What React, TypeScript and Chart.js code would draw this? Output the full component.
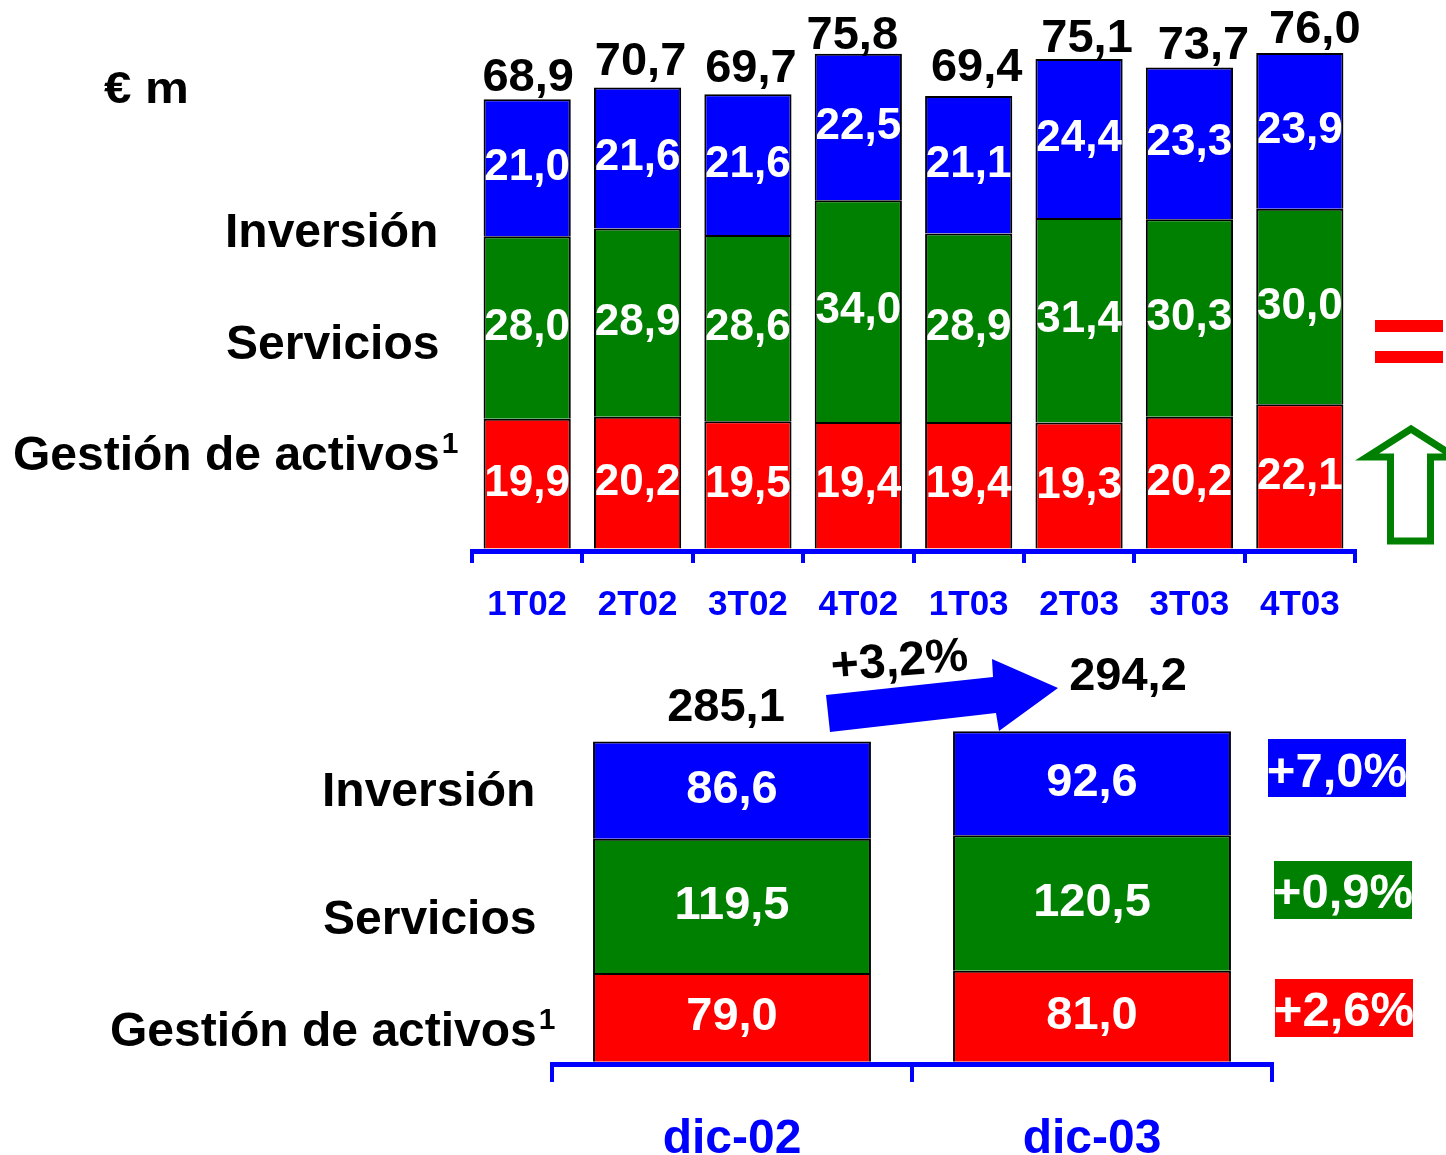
import React, { useEffect, useRef } from "react";
import { Chart, registerables } from "chart.js";

Chart.register(...registerables);

const FONT = '"Liberation Sans", Arial, Helvetica, sans-serif';
const RED = "#FF0000";
const GREEN = "#008000";
const BLUE = "#0000FF";

// ---- Quarterly data (top chart) ----
const quarters = ["1T02", "2T02", "3T02", "4T02", "1T03", "2T03", "3T03", "4T03"];
const qGestion = [19.9, 20.2, 19.5, 19.4, 19.4, 19.3, 20.2, 22.1];
const qServicios = [28.0, 28.9, 28.6, 34.0, 28.9, 31.4, 30.3, 30.0];
const qInversion = [21.0, 21.6, 21.6, 22.5, 21.1, 24.4, 23.3, 23.9];
const qTotals = [68.9, 70.7, 69.7, 75.8, 69.4, 75.1, 73.7, 76.0];

// ---- Year-end data (bottom chart) ----
const years = ["dic-02", "dic-03"];
const yGestion = [79.0, 81.0];
const yServicios = [119.5, 120.5];
const yInversion = [86.6, 92.6];
const yTotals = [285.1, 294.2];

// ---- Series names and growth annotations ----
const seriesNames = ["Gestión de activos", "Servicios", "Inversión"];
const footnoteMark = "1";
const unitLabel = "€ m";
const totalGrowth = "+3,2%";
const growthInversion = "+7,0%";
const growthServicios = "+0,9%";
const growthGestion = "+2,6%";

const fmt = (v: number) => v.toFixed(1).replace(".", ",");

function makeLabelPlugin(cfg: {
  inner: number;
  total: number;
  totals: number[];
  offsets: number[][];
}) {
  return {
    id: "segLabels",
    afterDatasetsDraw(chart: any) {
      const ctx = chart.ctx as CanvasRenderingContext2D;
      ctx.save();
      ctx.font = `bold ${cfg.inner}px ${FONT}`;
      ctx.fillStyle = "#FFFFFF";
      ctx.textAlign = "center";
      ctx.textBaseline = "middle";
      chart.data.datasets.forEach((ds: any, i: number) => {
        const meta = chart.getDatasetMeta(i);
        meta.data.forEach((el: any, j: number) => {
          ctx.fillText(fmt(ds.data[j]), el.x, (el.y + el.base) / 2);
        });
      });
      const top = chart.getDatasetMeta(chart.data.datasets.length - 1);
      ctx.font = `bold ${cfg.total}px ${FONT}`;
      ctx.fillStyle = "#000000";
      ctx.textBaseline = "alphabetic";
      top.data.forEach((el: any, j: number) => {
        const o = cfg.offsets[j] || [0, 8];
        ctx.fillText(fmt(cfg.totals[j]), el.x + o[0], el.y - o[1]);
      });
      ctx.restore();
    },
  };
}

const topDeco = {
  id: "topDeco",
  afterDraw(chart: any) {
    const ctx = chart.ctx as CanvasRenderingContext2D;
    ctx.save();
    // "=" sign
    ctx.fillStyle = RED;
    ctx.fillRect(1375, 320, 68, 12);
    ctx.fillRect(1375, 351, 68, 12);
    // hollow green up arrow
    ctx.strokeStyle = GREEN;
    ctx.lineWidth = 7;
    ctx.lineJoin = "miter";
    ctx.beginPath();
    ctx.moveTo(1411, 429);
    ctx.lineTo(1367, 457);
    ctx.lineTo(1390.5, 457);
    ctx.lineTo(1390.5, 541);
    ctx.lineTo(1430.5, 541);
    ctx.lineTo(1430.5, 457);
    ctx.lineTo(1455, 457);
    ctx.closePath();
    ctx.stroke();
    ctx.restore();
  },
};

const BOT_TOP = 625;
const botDeco = {
  id: "botDeco",
  afterDraw(chart: any) {
    const ctx = chart.ctx as CanvasRenderingContext2D;
    const o = BOT_TOP;
    ctx.save();
    ctx.fillStyle = BLUE;
    ctx.beginPath();
    ctx.moveTo(826, 695 - o);
    ctx.lineTo(993, 677 - o);
    ctx.lineTo(992, 659 - o);
    ctx.lineTo(1058, 688 - o);
    ctx.lineTo(999, 731 - o);
    ctx.lineTo(996, 713 - o);
    ctx.lineTo(830, 732 - o);
    ctx.closePath();
    ctx.fill();
    ctx.translate(832, 681 - o);
    ctx.rotate((-4.5 * Math.PI) / 180);
    ctx.fillStyle = "#000";
    ctx.font = `bold 48px ${FONT}`;
    ctx.textAlign = "left";
    ctx.textBaseline = "alphabetic";
    ctx.fillText(totalGrowth, 0, 0);
    ctx.restore();
  },
};

function barDatasets(g: number[], s: number[], inv: number[]) {
  const common = { borderColor: "#000000", borderWidth: 2 };
  return [
    { label: seriesNames[0], data: g, backgroundColor: RED, ...common },
    { label: seriesNames[1], data: s, backgroundColor: GREEN, ...common },
    { label: seriesNames[2], data: inv, backgroundColor: BLUE, ...common },
  ];
}

function Label(props: { text: string; left: number; baseline: number; size?: number; sup?: string }) {
  const size = props.size ?? 48;
  return (
    <div
      style={{
        position: "absolute",
        left: props.left,
        top: props.baseline - 0.8465 * size,
        fontSize: size,
        lineHeight: `${size}px`,
        fontWeight: "bold",
        fontFamily: FONT,
        whiteSpace: "nowrap",
        color: "#000",
      }}
    >
      {props.text}
      {props.sup ? (
        <span
          style={{
            fontSize: 30,
            lineHeight: "30px",
            position: "relative",
            top: -17,
            marginLeft: 2,
          }}
        >
          {props.sup}
        </span>
      ) : null}
    </div>
  );
}

function GrowthBox(props: { text: string; left: number; top: number; bg: string; baseline: number }) {
  const size = 49;
  return (
    <div
      style={{
        position: "absolute",
        left: props.left,
        top: props.top,
        width: 138,
        height: 58,
        background: props.bg,
      }}
    >
      <div
        style={{
          position: "absolute",
          left: -10,
          width: 158,
          textAlign: "center",
          top: props.baseline - props.top - 0.8465 * size,
          fontSize: size,
          lineHeight: `${size}px`,
          fontWeight: "bold",
          fontFamily: FONT,
          color: "#fff",
          whiteSpace: "nowrap",
        }}
      >
        {props.text}
      </div>
    </div>
  );
}

export default function App() {
  const topRef = useRef<HTMLCanvasElement>(null);
  const botRef = useRef<HTMLCanvasElement>(null);

  useEffect(() => {
    const c1 = new Chart(topRef.current as HTMLCanvasElement, {
      type: "bar",
      data: { labels: quarters, datasets: barDatasets(qGestion, qServicios, qInversion) as any },
      options: {
        animation: false,
        responsive: false,
        maintainAspectRatio: false,
        layout: { padding: { left: 472, right: 91, top: 27, bottom: 0 } },
        datasets: { bar: { categoryPercentage: 1, barPercentage: 0.79 } } as any,
        plugins: { legend: { display: false }, tooltip: { enabled: false } },
        scales: {
          x: {
            stacked: true,
            offset: true,
            grid: {
              display: true,
              drawOnChartArea: false,
              drawTicks: true,
              tickLength: 12,
              color: BLUE,
              lineWidth: 4,
              offset: true,
              z: 1,
            } as any,
            border: { display: true, color: BLUE, width: 5, z: 1 } as any,
            ticks: {
              color: BLUE,
              font: { family: FONT, size: 35, weight: "bold" },
              padding: 21.5,
              autoSkip: false,
              maxRotation: 0,
              minRotation: 0,
            },
            afterFit: (s: any) => {
              s.height = 74;
            },
          },
          y: { stacked: true, display: false, min: -0.4, max: 80 },
        },
      },
      plugins: [
        makeLabelPlugin({
          inner: 44,
          total: 47,
          totals: qTotals,
          offsets: [[1, 8], [3, 13], [3, 12], [-6, 5], [8, 15], [8, 7], [14, 8], [15, 10]],
        }),
        topDeco,
      ],
    });

    const c2 = new Chart(botRef.current as HTMLCanvasElement, {
      type: "bar",
      data: { labels: years, datasets: barDatasets(yGestion, yServicios, yInversion) as any },
      options: {
        animation: false,
        responsive: false,
        maintainAspectRatio: false,
        layout: { padding: { left: 552, right: 174, top: 66, bottom: 0 } },
        datasets: { bar: { categoryPercentage: 1, barPercentage: 0.772 } } as any,
        plugins: { legend: { display: false }, tooltip: { enabled: false } },
        scales: {
          x: {
            stacked: true,
            offset: true,
            grid: {
              display: true,
              drawOnChartArea: false,
              drawTicks: true,
              tickLength: 18,
              color: BLUE,
              lineWidth: 4,
              offset: true,
              z: 1,
            } as any,
            border: { display: true, color: BLUE, width: 5, z: 1 } as any,
            ticks: {
              color: BLUE,
              font: { family: FONT, size: 48, weight: "bold" },
              padding: 29,
              autoSkip: false,
              maxRotation: 0,
              minRotation: 0,
            },
            afterFit: (s: any) => {
              s.height = 91;
            },
          },
          y: { stacked: true, display: false, min: -2, max: 330 },
        },
      },
      plugins: [
        makeLabelPlugin({
          inner: 47,
          total: 47,
          totals: yTotals,
          offsets: [[-6, 20], [36, 41]],
        }),
        botDeco,
      ],
    });

    return () => {
      c1.destroy();
      c2.destroy();
    };
  }, []);

  return (
    <div
      style={{
        position: "absolute",
        left: 0,
        top: 0,
        width: 1446,
        height: 1155,
        background: "#ffffff",
        overflow: "hidden",
      }}
    >
      <canvas
        ref={topRef}
        width={1446}
        height={625}
        style={{ position: "absolute", left: 0, top: 0, width: 1446, height: 625 }}
      />
      <canvas
        ref={botRef}
        width={1446}
        height={530}
        style={{ position: "absolute", left: 0, top: BOT_TOP, width: 1446, height: 530 }}
      />

      <div
        style={{
          position: "absolute",
          left: 104,
          top: 103 - 0.8465 * 44,
          fontSize: 44,
          lineHeight: "44px",
          fontWeight: "bold",
          fontFamily: FONT,
          whiteSpace: "nowrap",
          transform: "scaleX(1.12)",
          transformOrigin: "left center",
        }}
      >
        {unitLabel}
      </div>

      <Label text={seriesNames[2]} left={225} baseline={248} />
      <Label text={seriesNames[1]} left={226} baseline={360} />
      <Label text={seriesNames[0]} sup={footnoteMark} left={13} baseline={471} />

      <Label text={seriesNames[2]} left={322} baseline={807} />
      <Label text={seriesNames[1]} left={323} baseline={935} />
      <Label text={seriesNames[0]} sup={footnoteMark} left={110} baseline={1047} />

      <GrowthBox text={growthInversion} left={1268} top={739} bg={BLUE} baseline={787} />
      <GrowthBox text={growthServicios} left={1274} top={861} bg={GREEN} baseline={908} />
      <GrowthBox text={growthGestion} left={1275} top={979} bg={RED} baseline={1026} />
    </div>
  );
}
